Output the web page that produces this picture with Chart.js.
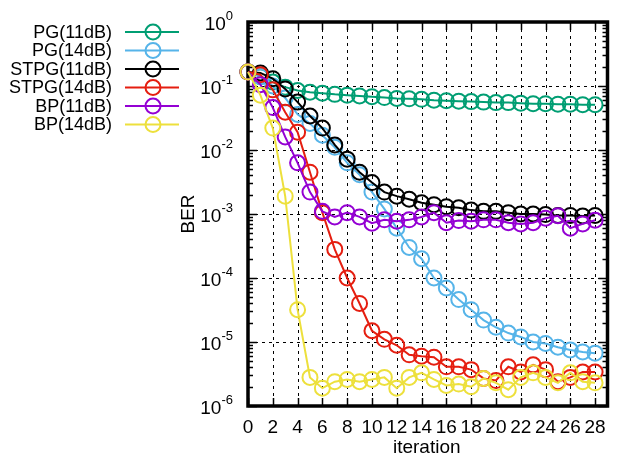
<!DOCTYPE html>
<html>
<head>
<meta charset="utf-8">
<script src="https://cdn.jsdelivr.net/npm/chart.js@4.4.1/dist/chart.umd.min.js"></script>
<style>
  html, body { margin: 0; padding: 0; background: #fff; }
  #wrap { width: 617px; height: 456px; }
</style>
</head>
<body>
<div id="wrap"><canvas id="berChart" width="617" height="456"></canvas></div>
<script>
// iteration index on the x axis
const iterations = [0, 1, 2, 3, 4, 5, 6, 7, 8, 9, 10, 11, 12, 13, 14, 15, 16, 17, 18, 19, 20, 21, 22, 23, 24, 25, 26, 27, 28];

// BER per iteration for each decoder / SNR
const pg11 = [0.165, 0.14, 0.115, 0.096, 0.085, 0.080, 0.077, 0.074, 0.072, 0.070, 0.068, 0.066, 0.064, 0.063, 0.062, 0.060, 0.059, 0.058, 0.057, 0.056, 0.055, 0.055, 0.054, 0.053, 0.053, 0.052, 0.052, 0.051, 0.051];
const pg14 = [0.165, 0.14, 0.10, 0.065, 0.036, 0.026, 0.017, 0.011, 0.0063, 0.0041, 0.0022, 0.0012, 0.0006, 0.0003, 0.0002, 0.0001, 0.00007, 0.000046, 0.000032, 0.000022, 0.000017, 0.0000138, 0.000012, 0.00001, 0.0000095, 0.0000083, 0.0000075, 0.000007, 0.0000067];
const stpg11 = [0.165, 0.16, 0.13, 0.09, 0.056, 0.034, 0.022, 0.012, 0.0072, 0.0045, 0.0031, 0.0022, 0.0019, 0.0017, 0.0015, 0.0014, 0.0013, 0.00125, 0.00115, 0.0011, 0.0011, 0.00105, 0.001, 0.001, 0.00098, 0.00095, 0.00095, 0.00093, 0.00095];
const stpg14 = [0.165, 0.15, 0.087, 0.039, 0.019, 0.0045, 0.00105, 0.00028, 0.0001, 0.00004, 0.000015, 0.000011, 0.0000089, 0.0000063, 0.000006, 0.0000058, 0.0000041, 0.0000041, 0.0000037, 0.0000027, 0.0000025, 0.0000041, 0.0000034, 0.0000044, 0.0000037, 0.0000024, 0.0000028, 0.0000034, 0.0000034];
const bp11 = [0.165, 0.105, 0.046, 0.016, 0.0063, 0.0022, 0.0011, 0.0009, 0.00105, 0.0009, 0.00072, 0.00081, 0.00077, 0.00081, 0.0009, 0.00105, 0.00073, 0.00079, 0.00077, 0.00081, 0.00081, 0.00073, 0.0007, 0.00073, 0.00086, 0.00094, 0.0006, 0.0007, 0.0008];
const bp14 = [0.165, 0.072, 0.022, 0.0019, 0.000032, 0.0000028, 0.0000019, 0.0000024, 0.0000026, 0.0000024, 0.0000026, 0.0000028, 0.0000019, 0.0000028, 0.0000033, 0.0000026, 0.0000021, 0.0000022, 0.000002, 0.0000027, 0.0000023, 0.0000018, 0.0000028, 0.0000033, 0.0000028, 0.0000023, 0.0000033, 0.0000024, 0.0000023];

const seriesNames = ["PG(11dB)", "PG(14dB)", "STPG(11dB)", "STPG(14dB)", "BP(11dB)", "BP(14dB)"];
const seriesData = [pg11, pg14, stpg11, stpg14, bp11, bp14];
const seriesColors = ["#009e73", "#56b4e9", "#000000", "#e51e10", "#9400d3", "#ede03c"];

const xTicks = [0, 2, 4, 6, 8, 10, 12, 14, 16, 18, 20, 22, 24, 26, 28];
const yExponents = [0, -1, -2, -3, -4, -5, -6];

const FONT = '"Liberation Sans", Arial, Helvetica, sans-serif';

const datasets = seriesData.map((vals, i) => ({
  label: seriesNames[i],
  data: vals.map((v, k) => ({ x: iterations[k], y: v })),
  borderColor: seriesColors[i],
  borderWidth: 2,
  pointStyle: "circle",
  pointRadius: 7.5,
  pointBorderWidth: 2,
  pointBorderColor: seriesColors[i],
  pointBackgroundColor: "rgba(0,0,0,0)",
  pointHoverRadius: 7.5,
  tension: 0,
  clip: false,
  order: seriesData.length - 1 - i
}));

// gnuplot-like frame, dashed grid and inward tick marks
const framePlugin = {
  id: "frame",
  beforeDatasetsDraw(chart) {
    const { ctx, chartArea: a, scales } = chart;
    const xs = scales.x, ys = scales.y;
    ctx.save();

    ctx.strokeStyle = "#000";
    ctx.lineWidth = 1;
    ctx.setLineDash([3, 4]);
    xTicks.forEach(t => {
      if (t === 0) return;
      const px = Math.round(xs.getPixelForValue(t)) + 0.5;
      ctx.beginPath();
      ctx.moveTo(px, a.top);
      ctx.lineTo(px, a.bottom);
      ctx.stroke();
    });
    yExponents.forEach(e => {
      if (e === 0 || e === -6) return;
      const py = Math.round(ys.getPixelForValue(Math.pow(10, e))) + 0.5;
      ctx.beginPath();
      ctx.moveTo(a.left, py);
      ctx.lineTo(a.right, py);
      ctx.stroke();
    });
    ctx.setLineDash([]);

    // x ticks on bottom and top
    ctx.lineWidth = 1.5;
    xTicks.forEach(t => {
      const px = Math.round(xs.getPixelForValue(t)) + 0.5;
      ctx.beginPath();
      ctx.moveTo(px, a.bottom); ctx.lineTo(px, a.bottom - 8);
      ctx.moveTo(px, a.top); ctx.lineTo(px, a.top + 8);
      ctx.stroke();
    });

    // y ticks on left and right, with log minor ticks
    for (let e = -6; e <= 0; e++) {
      for (let m = 1; m <= 9; m++) {
        const v = m * Math.pow(10, e);
        if (v > 1) break;
        const len = m === 1 ? 9 : 5;
        const py = Math.round(ys.getPixelForValue(v)) + 0.5;
        ctx.beginPath();
        ctx.moveTo(a.left, py); ctx.lineTo(a.left + len, py);
        ctx.moveTo(a.right, py); ctx.lineTo(a.right - len, py);
        ctx.stroke();
      }
    }

    ctx.lineWidth = 3.5;
    ctx.strokeRect(a.left, a.top, a.right - a.left, a.bottom - a.top);
    ctx.restore();
  },
  afterDraw(chart) {
    const { ctx, chartArea: a, scales } = chart;
    const xs = scales.x, ys = scales.y;
    ctx.save();
    ctx.fillStyle = "#000";

    // x tick labels
    ctx.font = "19px " + FONT;
    ctx.textAlign = "center";
    ctx.textBaseline = "middle";
    xTicks.forEach(t => {
      ctx.fillText(String(t), xs.getPixelForValue(t), a.bottom + 22);
    });
    ctx.fillText("iteration", (a.left + a.right) / 2 - 1, a.bottom + 42);

    // y tick labels as 10^k
    yExponents.forEach(e => {
      const py = ys.getPixelForValue(Math.pow(10, e));
      const exp = String(e);
      ctx.font = "13px " + FONT;
      const supW = ctx.measureText(exp).width;
      const supX = a.left - 15 - supW;
      ctx.textAlign = "left";
      ctx.fillText(exp, supX, py - 6);
      ctx.font = "19px " + FONT;
      ctx.textAlign = "right";
      ctx.fillText("10", supX, py + 3);
    });

    // axis title
    ctx.save();
    ctx.translate(189, (a.top + a.bottom) / 2);
    ctx.rotate(-Math.PI / 2);
    ctx.textAlign = "center";
    ctx.font = "19px " + FONT;
    ctx.fillText("BER", 0, 0);
    ctx.restore();

    // key on the left
    chart.data.datasets.forEach((ds, i) => {
      const y = 32 + i * 18.5;
      ctx.font = "18px " + FONT;
      ctx.textAlign = "right";
      ctx.textBaseline = "middle";
      ctx.fillStyle = "#000";
      ctx.fillText(ds.label, 112, y + 1);
      ctx.strokeStyle = ds.borderColor;
      ctx.lineWidth = 2;
      ctx.beginPath();
      ctx.moveTo(125, y); ctx.lineTo(179, y);
      ctx.stroke();
      ctx.beginPath();
      ctx.arc(153, y, 7.5, 0, Math.PI * 2);
      ctx.stroke();
    });
    ctx.restore();
  }
};

new Chart(document.getElementById("berChart"), {
  type: "line",
  data: { datasets },
  options: {
    responsive: false,
    animation: false,
    events: [],
    layout: { padding: { top: 22, right: 3.5, bottom: 0, left: 0 } },
    plugins: { legend: { display: false }, tooltip: { enabled: false } },
    scales: {
      x: {
        type: "linear",
        min: 0,
        max: 29,
        ticks: { display: false },
        grid: { display: false },
        border: { display: false },
        afterFit: s => { s.height = 50; }
      },
      y: {
        type: "logarithmic",
        min: 1e-6,
        max: 1,
        ticks: { display: false },
        grid: { display: false },
        border: { display: false },
        afterFit: s => { s.width = 248; }
      }
    }
  },
  plugins: [framePlugin]
});
</script>
</body>
</html>
